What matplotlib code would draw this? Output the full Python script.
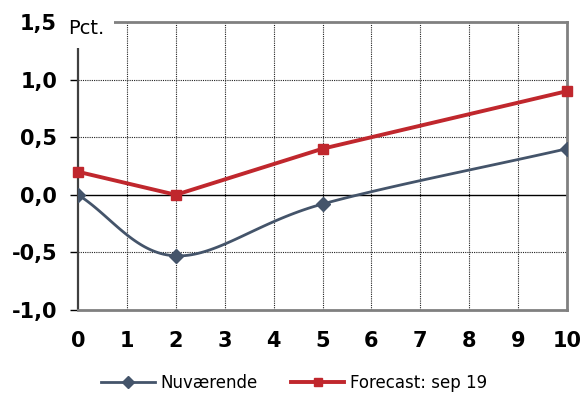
import numpy as np
import matplotlib.pyplot as plt
from matplotlib.lines import Line2D

# Data
years = [0, 2, 5, 10]
nuvaerende = [0.0, -0.53, -0.08, 0.4]
forecast = [0.2, 0.0, 0.4, 0.9]

blue = '#44546A'
red = '#C0272D'


def catmull_rom(x, y, n=40):
    # smoothed line through the points, like a spreadsheet "smooth line"
    x = np.asarray(x, float)
    y = np.asarray(y, float)
    px = np.concatenate([[2 * x[0] - x[1]], x, [2 * x[-1] - x[-2]]])
    py = np.concatenate([[2 * y[0] - y[1]], y, [2 * y[-1] - y[-2]]])
    xs, ys = [], []
    for i in range(1, len(px) - 2):
        t = np.linspace(0, 1, n)
        for p, out in ((px, xs), (py, ys)):
            p0, p1, p2, p3 = p[i - 1], p[i], p[i + 1], p[i + 2]
            out.extend(0.5 * (2 * p1 + (-p0 + p2) * t
                              + (2 * p0 - 5 * p1 + 4 * p2 - p3) * t ** 2
                              + (-p0 + 3 * p1 - 3 * p2 + p3) * t ** 3))
    return np.array(xs), np.array(ys)


fig = plt.figure(figsize=(5.83, 3.96), dpi=100)
ax = fig.add_axes([0.1338, 0.2172, 0.9726 - 0.1338, 0.9444 - 0.2172])

ax.set_xlim(0, 10)
ax.set_ylim(-1.0, 1.5)

# grid
for xv in range(1, 10):
    ax.axvline(xv, color='#222222', lw=0.8, ls=(0, (1, 1)), zorder=1)
for yv in [-0.5, 0.5, 1.0]:
    ax.axhline(yv, color='#222222', lw=0.8, ls=(0, (1, 1)), zorder=1)
ax.axhline(0, color='black', lw=1.0, zorder=1)

sx, sy = catmull_rom(years, nuvaerende)
ax.plot(sx, sy, color=blue, lw=2, zorder=3)
ax.plot(years, nuvaerende, ls='none', marker='D', ms=7, color=blue, zorder=4)
ax.plot(years, forecast, color=red, lw=2.8, marker='s', ms=7, zorder=5,
        clip_on=False)

ax.set_xticks(range(0, 11))
ax.set_xticklabels([str(v) for v in range(0, 11)])
ax.set_yticks([-1.0, -0.5, 0.0, 0.5, 1.0, 1.5])
ax.set_yticklabels(['-1,0', '-0,5', '0,0', '0,5', '1,0', '1,5'])
ax.tick_params(axis='x', length=0, pad=15, labelsize=15)
ax.tick_params(axis='y', length=6, width=1, pad=9, labelsize=15)
for lab in ax.get_xticklabels() + ax.get_yticklabels():
    lab.set_fontweight('bold')

ax.spines['left'].set_color('#404040')
ax.spines['left'].set_linewidth(1.6)
for s in ['top', 'right', 'bottom']:
    ax.spines[s].set_color('#808080')
    ax.spines[s].set_linewidth(2)

ax.text(-0.2, 1.44, 'Pct.', fontsize=14, ha='left', va='center',
        bbox=dict(facecolor='white', edgecolor='none', pad=7), zorder=10,
        clip_on=False)

handles = [Line2D([], [], color=blue, lw=2, marker='D', ms=6),
           Line2D([], [], color=red, lw=2.8, marker='s', ms=6)]
fig.legend(handles, ['Nuværende', 'Forecast: sep 19'], loc='center',
           bbox_to_anchor=(0.505, 0.033), ncol=2, frameon=False,
           fontsize=12, handlelength=3.2, handletextpad=0.35,
           columnspacing=2.0)

fig.savefig('out.png', dpi=100)
